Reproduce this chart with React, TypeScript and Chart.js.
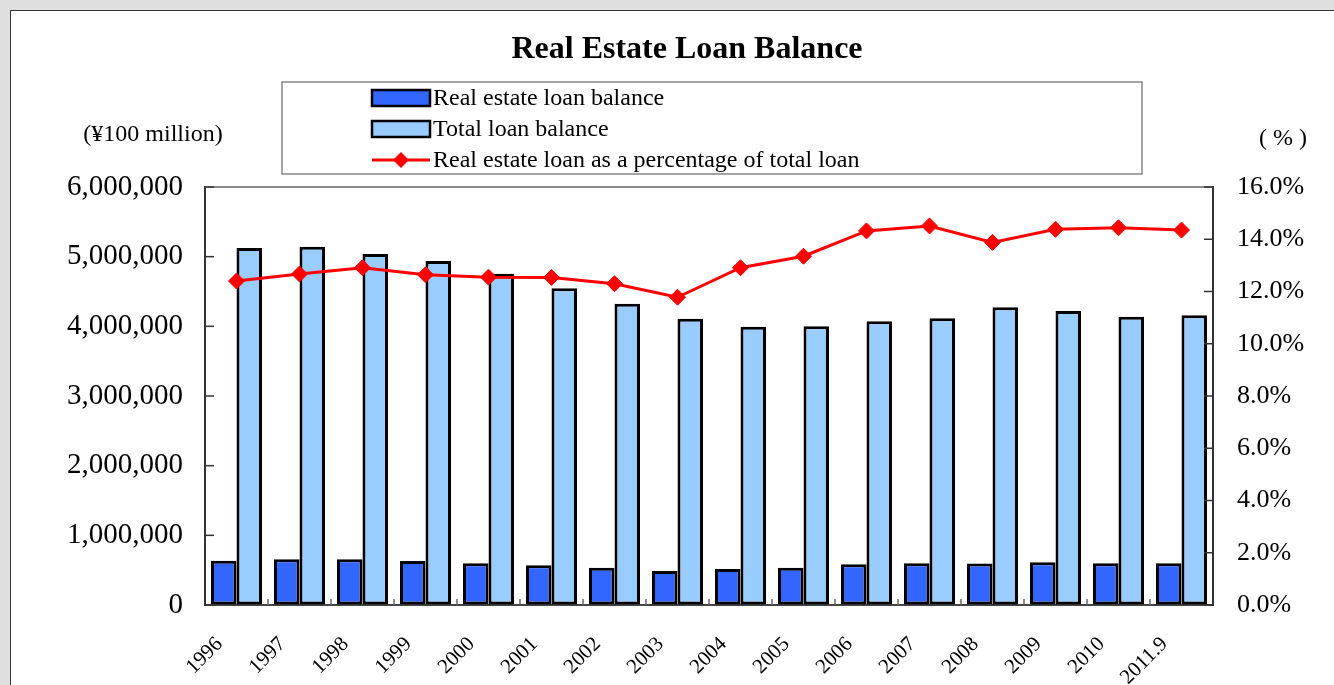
import React, { useEffect, useRef } from 'react';
import { Chart, registerables } from 'chart.js';

Chart.register(...registerables);

const categories = ['1996', '1997', '1998', '1999', '2000', '2001', '2002', '2003', '2004', '2005', '2006', '2007', '2008', '2009', '2010', '2011.9'];
const realEstateLoan = [636000, 656000, 656000, 632000, 598000, 569000, 536000, 488000, 517000, 536000, 584000, 598000, 594000, 612000, 598000, 598000];
const totalLoan = [5124000, 5143000, 5038000, 4937000, 4756000, 4545000, 4325000, 4110000, 3995000, 4000000, 4072000, 4115000, 4273000, 4220000, 4139000, 4158000];
const realEstateShare = [12.40, 12.67, 12.91, 12.64, 12.55, 12.54, 12.30, 11.78, 12.91, 13.35, 14.32, 14.51, 13.88, 14.38, 14.44, 14.35];
const leftTickLabels = ['0', '1,000,000', '2,000,000', '3,000,000', '4,000,000', '5,000,000', '6,000,000'];
const rightTickLabels = ['0.0%', '2.0%', '4.0%', '6.0%', '8.0%', '10.0%', '12.0%', '14.0%', '16.0%'];
const seriesNames = ['Real estate loan balance', 'Total loan balance', 'Real estate loan as a percentage of total loan'];
const chartTitle = 'Real Estate Loan Balance';
const leftUnit = '(¥100 million)';
const rightUnit = '( % )';

const SERIF = '"Liberation Serif", "Times New Roman", serif';
const RE_COLOR = '#3366ff';
const TOTAL_COLOR = '#99ccff';
const LINE_COLOR = '#ff0000';

const decor = {
  id: 'decor',
  afterDraw(chart: any) {
    const ctx = chart.ctx as CanvasRenderingContext2D;
    const { left, right, top, bottom } = chart.chartArea;
    ctx.save();
    const line = (x1: number, y1: number, x2: number, y2: number) => {
      ctx.beginPath();
      ctx.moveTo(x1, y1);
      ctx.lineTo(x2, y2);
      ctx.stroke();
    };
    // plot area top border
    ctx.strokeStyle = '#8a8a8a';
    ctx.lineWidth = 2;
    line(left, top, right, top);
    // inward tick marks on the value axes
    ctx.strokeStyle = '#333';
    ctx.lineWidth = 1.5;
    const y = chart.scales.y;
    y.ticks.forEach((t: any) => {
      const py = y.getPixelForValue(t.value);
      line(left, py, left + 9, py);
    });
    const y2 = chart.scales.y2;
    y2.ticks.forEach((t: any) => {
      const py = y2.getPixelForValue(t.value);
      line(right - 9, py, right, py);
    });
    // category boundary ticks
    ctx.strokeStyle = '#666';
    const n = categories.length;
    const step = (right - left) / n;
    for (let i = 1; i < n; i++) {
      const px = left + i * step;
      line(px, bottom, px, bottom - 6);
    }

    // title
    ctx.fillStyle = '#000';
    ctx.font = `bold 32px ${SERIF}`;
    ctx.textAlign = 'center';
    ctx.textBaseline = 'middle';
    ctx.fillText(chartTitle, 687, 50);

    // axis units
    ctx.font = `24px ${SERIF}`;
    ctx.fillText(leftUnit, 153, 135);
    ctx.fillText(rightUnit, 1283, 139);

    // legend box
    ctx.strokeStyle = '#666';
    ctx.lineWidth = 1.2;
    ctx.strokeRect(282, 82, 860, 92);
    const byLabel = (name: string) => chart.data.datasets.find((d: any) => d.label === name);
    const rows = [98, 129, 160];
    const sx = 372;
    const sw = 58;
    ctx.textAlign = 'left';
    ctx.font = `24px ${SERIF}`;
    for (let i = 0; i < 2; i++) {
      const d = byLabel(seriesNames[i]);
      ctx.fillStyle = d.backgroundColor;
      ctx.fillRect(sx, rows[i] - 8, sw, 16);
      ctx.strokeStyle = '#000';
      ctx.lineWidth = 2.5;
      ctx.strokeRect(sx, rows[i] - 8, sw, 16);
    }
    const ld = byLabel(seriesNames[2]);
    ctx.strokeStyle = ld.borderColor;
    ctx.lineWidth = 3;
    line(sx, rows[2], sx + sw, rows[2]);
    ctx.fillStyle = ld.borderColor;
    const cx = sx + sw / 2;
    ctx.beginPath();
    ctx.moveTo(cx - 8, rows[2]);
    ctx.lineTo(cx, rows[2] - 8);
    ctx.lineTo(cx + 8, rows[2]);
    ctx.lineTo(cx, rows[2] + 8);
    ctx.closePath();
    ctx.fill();
    ctx.fillStyle = '#000';
    for (let i = 0; i < 3; i++) {
      ctx.fillText(seriesNames[i], 433, rows[i] + 1);
    }
    ctx.restore();
  },
};

export default function App() {
  const canvasRef = useRef<HTMLCanvasElement | null>(null);

  useEffect(() => {
    if (!canvasRef.current) return;
    const chart = new Chart(canvasRef.current, {
      type: 'bar',
      data: {
        labels: categories,
        datasets: [
          {
            label: seriesNames[0],
            data: realEstateLoan,
            yAxisID: 'y',
            backgroundColor: RE_COLOR,
            borderColor: '#000',
            borderWidth: 3,
            borderSkipped: false,
            barPercentage: 1,
            categoryPercentage: 0.81,
            order: 1,
          },
          {
            label: seriesNames[1],
            data: totalLoan,
            yAxisID: 'y',
            backgroundColor: TOTAL_COLOR,
            borderColor: '#000',
            borderWidth: 3,
            borderSkipped: false,
            barPercentage: 1,
            categoryPercentage: 0.81,
            order: 2,
          },
          {
            type: 'line',
            label: seriesNames[2],
            data: realEstateShare,
            yAxisID: 'y2',
            borderColor: LINE_COLOR,
            backgroundColor: LINE_COLOR,
            borderWidth: 3,
            pointStyle: 'rectRot',
            pointRadius: 8,
            pointBorderWidth: 1,
            pointBorderColor: LINE_COLOR,
            pointBackgroundColor: LINE_COLOR,
            tension: 0,
            order: 0,
          } as any,
        ],
      },
      options: {
        animation: false,
        responsive: false,
        devicePixelRatio: 1,
        layout: { padding: { top: 187, left: 0, right: 0, bottom: 0 } },
        plugins: {
          legend: { display: false },
          title: { display: false },
          tooltip: { enabled: false },
        },
        scales: {
          x: {
            offset: true,
            grid: { display: true, drawOnChartArea: false, drawTicks: false, offset: true },
            border: { display: true, color: '#444', width: 2 },
            ticks: {
              maxRotation: 45,
              minRotation: 45,
              autoSkip: false,
              padding: 27,
              labelOffset: -17,
              color: '#000',
              font: { family: SERIF, size: 21 },
            },
            afterFit: (s: any) => { s.height = 80; },
          },
          y: {
            position: 'left',
            min: 0,
            max: 6000000,
            grid: { display: true, drawOnChartArea: false, drawTicks: false },
            border: { display: true, color: '#333', width: 2 },
            ticks: {
              stepSize: 1000000,
              padding: 22,
              color: '#000',
              font: { family: SERIF, size: 29 },
              callback: (_v: any, i: number) => leftTickLabels[i],
            },
            afterFit: (s: any) => { s.width = 205; },
          },
          y2: {
            position: 'right',
            min: 0,
            max: 16,
            grid: { display: true, drawOnChartArea: false, drawTicks: false },
            border: { display: true, color: '#333', width: 2 },
            ticks: {
              stepSize: 2,
              padding: 24,
              color: '#000',
              font: { family: SERIF, size: 26 },
              callback: (_v: any, i: number) => rightTickLabels[i],
            },
            afterFit: (s: any) => { s.width = 121; },
          },
        },
      },
      plugins: [decor],
    });
    return () => chart.destroy();
  }, []);

  return (
    <div style={{ position: 'fixed', left: 0, top: 0, width: 1334, height: 685, background: '#dfdfdf', overflow: 'hidden' }}>
      <div style={{ position: 'absolute', left: 10, top: 10, width: 1400, height: 800, background: '#fff', border: '1.5px solid #333', boxSizing: 'border-box' }} />
      <canvas ref={canvasRef} width={1334} height={685} style={{ position: 'absolute', left: 0, top: 0 }} />
    </div>
  );
}
